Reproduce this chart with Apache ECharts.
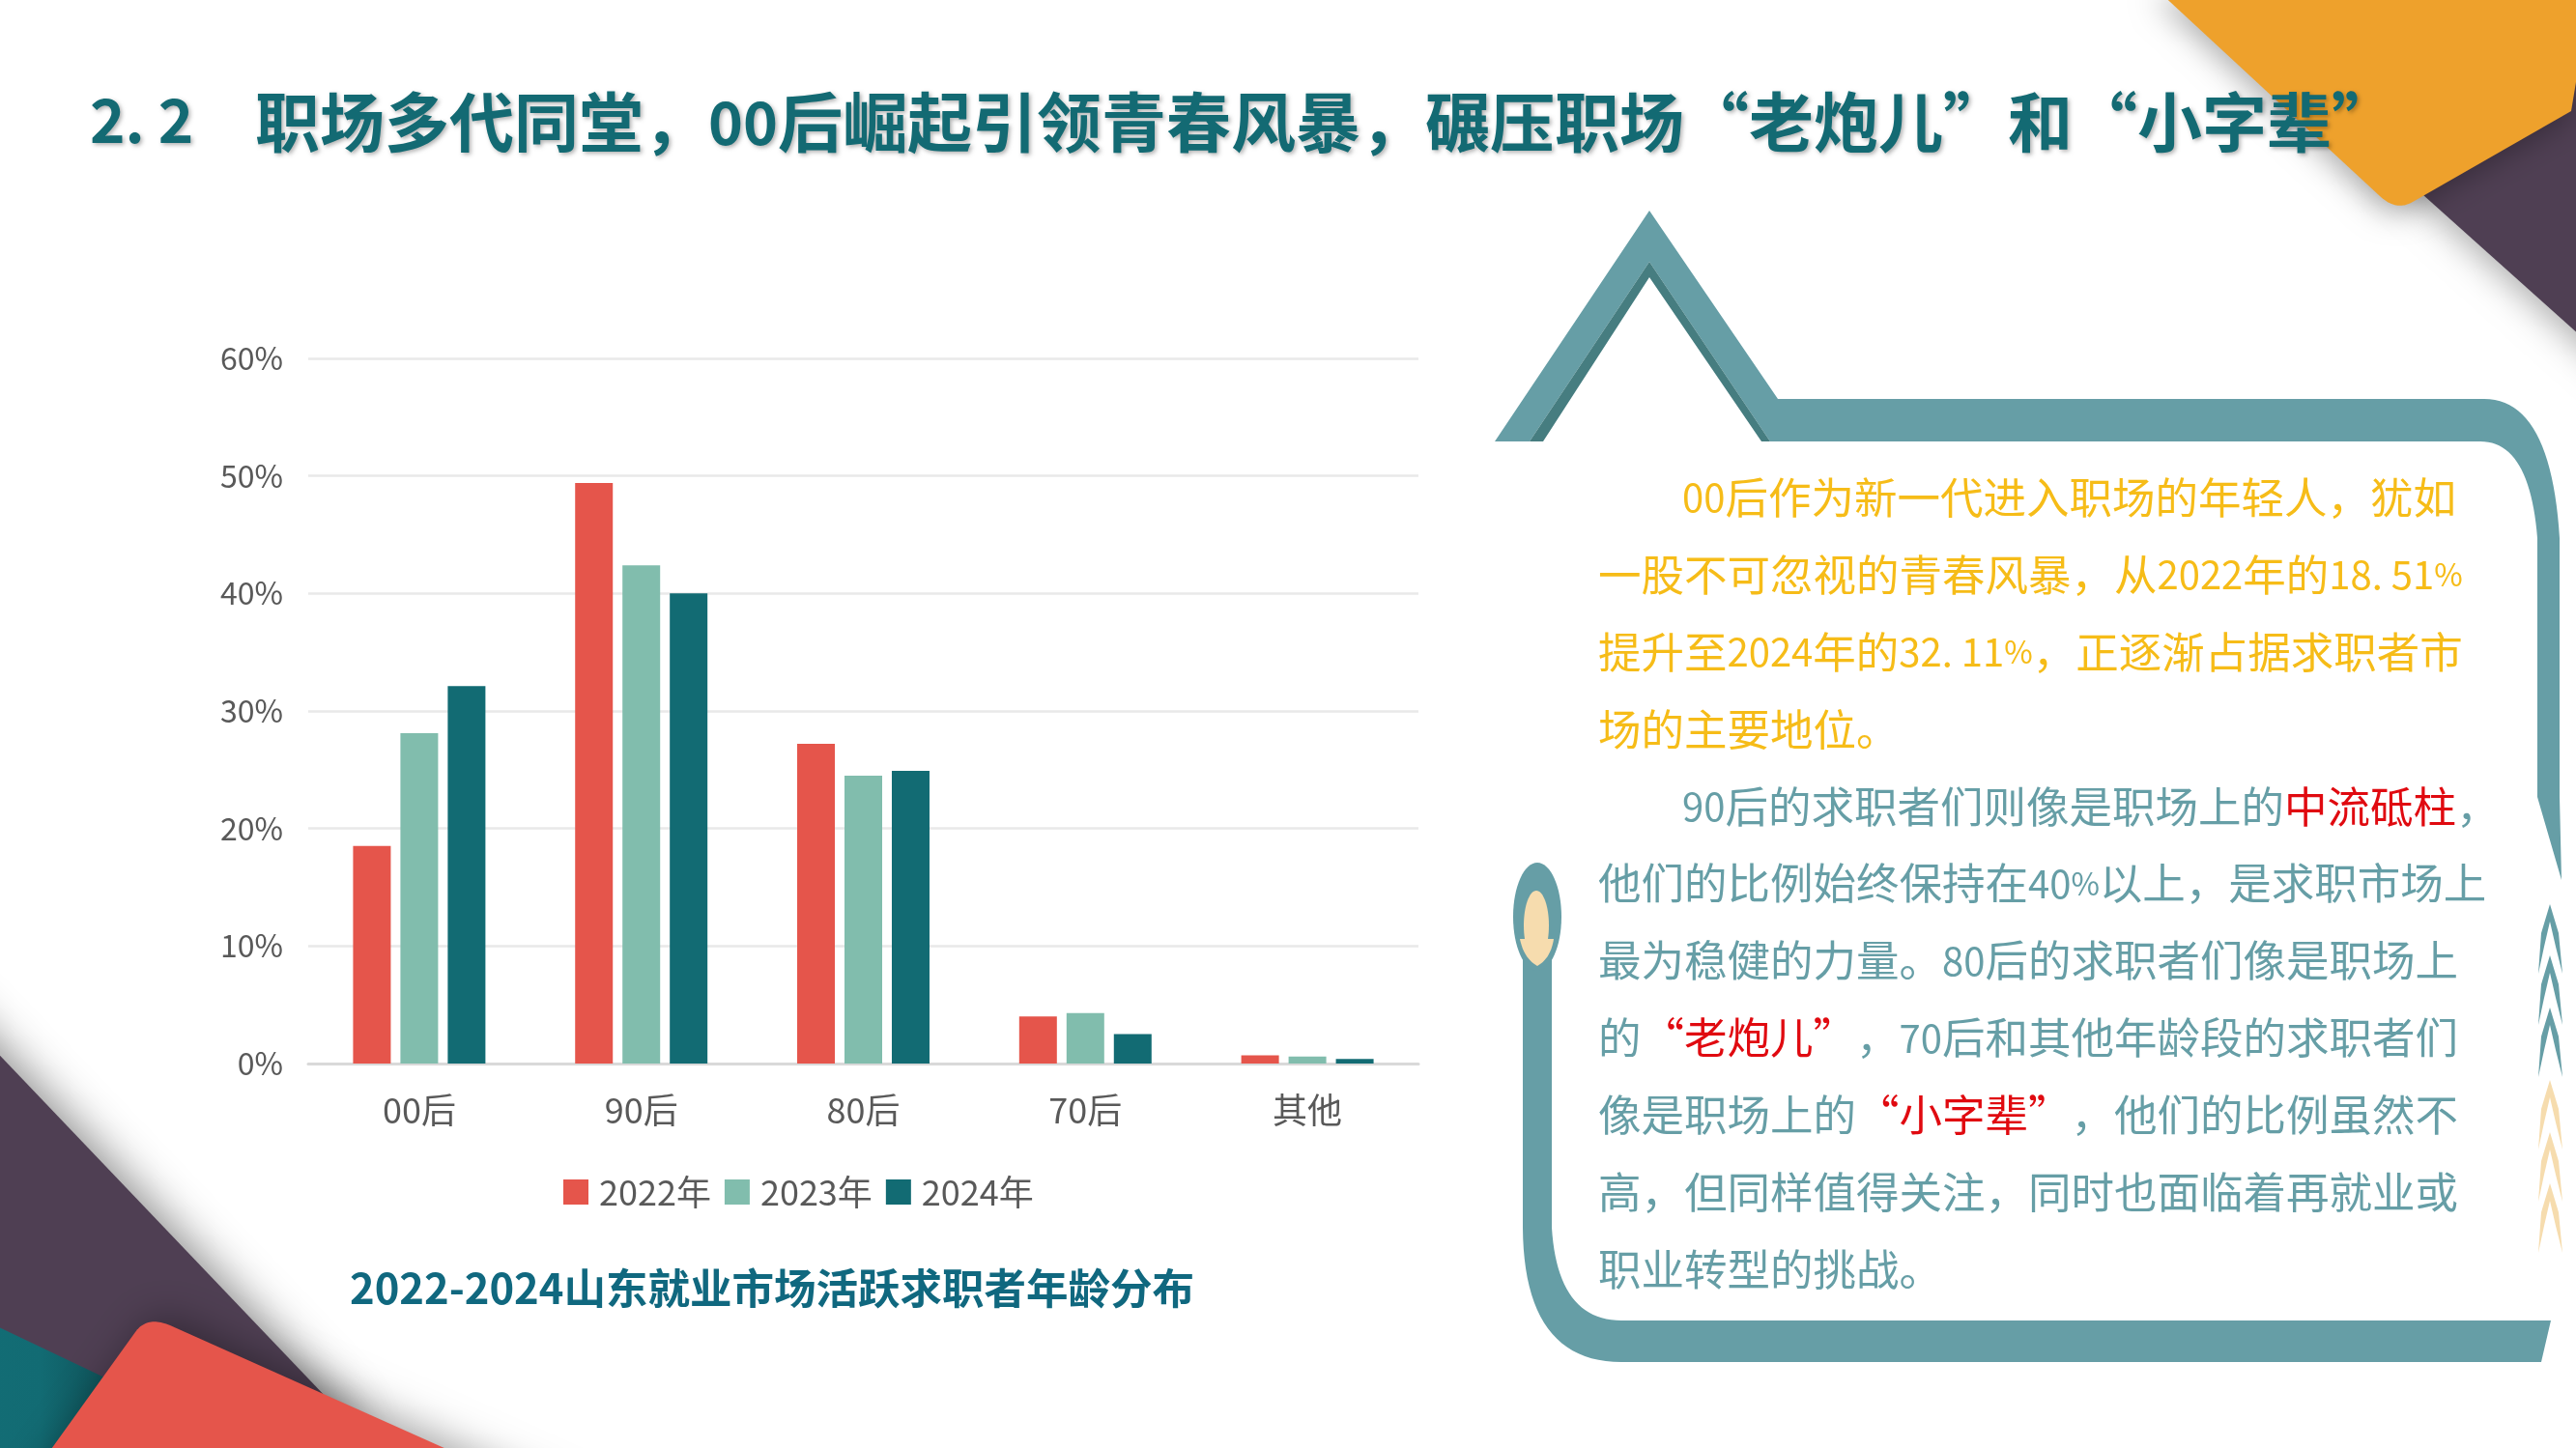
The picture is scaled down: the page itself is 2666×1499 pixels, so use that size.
<!DOCTYPE html>
<html>
<head>
<meta charset="utf-8">
<title>2022-2024山东就业市场活跃求职者年龄分布</title>
<script src="https://cdn.jsdelivr.net/npm/echarts@6/dist/echarts.min.js"></script>
<style>
html, body { margin: 0; padding: 0; background: #fff; }
#main { width: 2666px; height: 1499px; }
</style>
</head>
<body>
<div id="main"></div>
<script>
var categories = ["00后", "90后", "80后", "70后", "其他"];
var seriesNames = ["2022年", "2023年", "2024年"];
var values2022 = [18.51, 49.4, 27.2, 4.0, 0.7];
var values2023 = [28.1, 42.4, 24.5, 4.3, 0.6];
var values2024 = [32.11, 40.0, 24.9, 2.5, 0.4];
var seriesColors = ["#E5554B", "#81BDAD", "#126B73"];

var headNumber = "2. 2";
var headText = "职场多代同堂，{d|00}后崛起引领青春风暴，碾压职场“老炮儿”和“小字辈”";
var chartCaption = "2022-2024山东就业市场活跃求职者年龄分布";

// <>里的是红字
var introLines = [
	"00后作为新一代进入职场的年轻人，犹如",
	"一股不可忽视的青春风暴，从2022年的18. 51%",
	"提升至2024年的32. 11%，正逐渐占据求职者市",
	"场的主要地位。"
];
var bodyLines = [
	"90后的求职者们则像是职场上的<中流砥柱>，",
	"他们的比例始终保持在40%以上，是求职市场上",
	"最为稳健的力量。80后的求职者们像是职场上",
	"的<“老炮儿”>，70后和其他年龄段的求职者们",
	"像是职场上的<“小字辈”>，他们的比例虽然不",
	"高，但同样值得关注，同时也面临着再就业或",
	"职业转型的挑战。"
];

var cjkFont = '"Noto Sans CJK SC", "Noto Sans", sans-serif';
var frameColor = "#669EA6";
var frameDark = "#467D80";
var creamColor = "#F6DCAE";
var purpleColor = "#4F3F53";
var yellowColor = "#F6BC18";

//二次曲线取点，只给装饰框用
function curve(p0, c, p1){
	var pts = [];
	for(var i=1; i<=24; i++){
		var t = i / 24;
		var a = (1-t)*(1-t), b = 2*t*(1-t), d = t*t;
		pts.push([a*p0[0] + b*c[0] + d*p1[0], a*p0[1] + b*c[1] + d*p1[1]]);
	}
	return pts;
}

function poly(points, fill, extra){
	var style = {fill: fill};
	for(var k in extra) style[k] = extra[k];
	return {type: "polygon", z: 1, silent: true, shape: {points: points}, style: style};
}

//一行文字切成富文本
function richLine(line, key){
	var segs = line.split(/(<[^>]+>|[0-9][0-9. ]*|%)/);
	var out = "";
	for(var i=0; i<segs.length; i++){
		var seg = segs[i];
		if(seg == "") continue;
		if(seg.charAt(0) == "<") out += "{r|" + seg.substring(1, seg.length-1) + "}";
		else if(seg == "%") out += "{" + key + "p|%}";
		else if(/^[0-9]/.test(seg)) out += "{" + key + "d|" + seg + "}";
		else out += "{" + key + "|" + seg + "}";
	}
	return out;
}

var textRich = {
	y: {fontFamily: cjkFont, fontSize: 44.5, fill: yellowColor},
	yd: {fontFamily: cjkFont, fontSize: 40, fill: yellowColor},
	yp: {fontFamily: cjkFont, fontSize: 32, fill: yellowColor},
	t: {fontFamily: cjkFont, fontSize: 44.5, fill: frameColor},
	td: {fontFamily: cjkFont, fontSize: 40, fill: frameColor},
	tp: {fontFamily: cjkFont, fontSize: 32, fill: frameColor},
	r: {fontFamily: cjkFont, fontSize: 44.5, fill: "#E00A10"}
};

function paragraphElements(){
	var els = [];
	var all = introLines.concat(bodyLines);
	for(var i=0; i<all.length; i++){
		var indent = (i == 0 || i == introLines.length);
		var key = i < introLines.length ? "y" : "t";
		els.push({
			type: "text", z: 5, silent: true,
			style: {
				x: indent ? 1741 : 1654,
				y: 515 + i * 79.9,
				text: richLine(all[i], key),
				rich: textRich,
				verticalAlign: "middle",
				align: "left"
			}
		});
	}
	return els;
}

function chevron(y, color){
	return poly([
		[2639, y], [2648, y+30], [2652, y+72], [2645, y+44],
		[2639, y+18], [2633, y+44], [2627, y+72], [2630, y+30]
	], color);
}

function frameElements(){
	var top = [[1547, 457], [1707, 218], [1840, 413], [2571, 413]]
		.concat(curve([2571, 413], [2640, 413], [2649, 557]))
		.concat([[2649, 825], [2651, 911], [2626, 825], [2626, 557]])
		.concat(curve([2626, 557], [2618, 457], [2567, 457]))
		.concat([[1832, 457], [1707, 271], [1583, 457]]);
	var bottom = [[1576, 990], [1606, 990], [1606, 1271]]
		.concat(curve([1606, 1271], [1612, 1367], [1678, 1367]))
		.concat([[2640, 1367], [2630, 1410], [1678, 1410]])
		.concat(curve([1678, 1410], [1577, 1410], [1576, 1271]));
	var knobFoot = [[1573, 972], [1608, 972]]
		.concat(curve([1608, 972], [1605, 992], [1591, 1000]))
		.concat(curve([1591, 1000], [1577, 992], [1573, 972]));
	var els = [
		poly(top, frameColor),
		poly([[1707, 271], [1583, 457], [1597, 457], [1707, 287], [1823, 457], [1832, 457]], frameDark),
		poly(bottom, frameColor),
		{type: "ellipse", z: 1, silent: true, shape: {cx: 1591, cy: 949, rx: 25, ry: 56}, style: {fill: frameColor}},
		{type: "ellipse", z: 2, silent: true, shape: {cx: 1590, cy: 958, rx: 13, ry: 36}, style: {fill: creamColor}},
		poly(knobFoot, creamColor, {})
	];
	els[5].z = 2;
	var tealY = [936, 989, 1043];
	var creamY = [1118, 1172, 1225];
	for(var i=0; i<3; i++){
		els.push(chevron(tealY[i], frameColor));
		els.push(chevron(creamY[i], creamColor));
	}
	return els;
}

function cornerElements(){
	var shadow = {shadowBlur: 46, shadowColor: "rgba(0,0,0,0.45)", shadowOffsetX: 6, shadowOffsetY: -4};
	var shadowTop = {shadowBlur: 34, shadowColor: "rgba(0,0,0,0.3)", shadowOffsetX: -4, shadowOffsetY: 8};
	var red = [[10, 1560], [140, 1379]]
		.concat(curve([140, 1379], [152, 1362], [176, 1372]))
		.concat([[596, 1560]]);
	var orange = [[2233, -10], [2463, 203]]
		.concat(curve([2463, 203], [2480, 219], [2497, 209]))
		.concat([[2661, 115], [2666, 85], [2680, -10]]);
	return [
		poly([[-60, 1030], [360, 1470], [360, 1560], [-60, 1560]], purpleColor, shadow),
		poly([[-60, 1346], [230, 1484], [230, 1560], [-60, 1560]], {
			type: "linear", x: 0, y: 0, x2: 1, y2: 0,
			colorStops: [{offset: 0, color: "#136E76"}, {offset: 0.35, color: "#126B73"}, {offset: 0.7, color: "#0E4A50"}, {offset: 1, color: "#3A3040"}]
		}),
		poly(red, seriesColors[0], {shadowBlur: 40, shadowColor: "rgba(0,0,0,0.35)", shadowOffsetX: 10, shadowOffsetY: -4}),
		poly([[2450, 150], [2720, 392], [2720, 60]], purpleColor, shadowTop),
		poly(orange, "#EEA12C", {shadowBlur: 30, shadowColor: "rgba(0,0,0,0.3)", shadowOffsetX: -4, shadowOffsetY: 8})
	];
}

var myChart = echarts.init(document.getElementById("main"), null, {renderer: "canvas"});

myChart.setOption({
	animation: false,
	backgroundColor: "#fff",
	color: seriesColors,
	title: [{
		text: headNumber,
		left: 93, top: 93, padding: 0,
		textStyle: {
			fontFamily: cjkFont, fontSize: 62, fontWeight: "bold", color: "#136A73",
			textShadowColor: "rgba(0,0,0,0.3)", textShadowBlur: 4, textShadowOffsetX: 2, textShadowOffsetY: 2
		}
	}, {
		text: headText,
		left: 264, top: 93, padding: 0,
		textStyle: {
			fontFamily: cjkFont, fontSize: 67, fontWeight: "bold", color: "#136A73",
			textShadowColor: "rgba(0,0,0,0.3)", textShadowBlur: 4, textShadowOffsetX: 2, textShadowOffsetY: 2,
			rich: {
				d: {fontFamily: cjkFont, fontSize: 61, fontWeight: "bold", color: "#136A73",
					textShadowColor: "rgba(0,0,0,0.3)", textShadowBlur: 4, textShadowOffsetX: 2, textShadowOffsetY: 2}
			}
		}
	}, {
		text: chartCaption,
		left: 362, top: 1312, padding: 0,
		textStyle: {fontFamily: cjkFont, fontSize: 43.5, fontWeight: "bold", color: "#10687F"}
	}],
	legend: {
		left: 583, top: 1216, padding: 0,
		icon: "rect", itemWidth: 26, itemHeight: 26, itemGap: 14,
		selectedMode: false,
		data: seriesNames,
		textStyle: {fontFamily: cjkFont, fontSize: 36, color: "#595959", padding: [0, 0, 0, 6]}
	},
	grid: {left: 319, width: 1149, top: 371, height: 730, containLabel: false},
	xAxis: {
		type: "category",
		data: categories,
		axisTick: {show: false},
		axisLine: {lineStyle: {color: "#D9D9D9", width: 3}},
		axisLabel: {margin: 30, fontFamily: cjkFont, fontSize: 36, color: "#595959"}
	},
	yAxis: {
		type: "value",
		min: 0, max: 60, interval: 10,
		axisLine: {show: false},
		axisTick: {show: false},
		splitLine: {lineStyle: {color: "#E9E9E9", width: 2.5}},
		axisLabel: {margin: 26, formatter: "{value}%", fontFamily: cjkFont, fontSize: 32, color: "#595959"}
	},
	series: [
		{name: seriesNames[0], type: "bar", data: values2022, barWidth: 39, barGap: "25.6%"},
		{name: seriesNames[1], type: "bar", data: values2023, barWidth: 39, barGap: "25.6%"},
		{name: seriesNames[2], type: "bar", data: values2024, barWidth: 39, barGap: "25.6%"}
	],
	graphic: {elements: cornerElements().concat(frameElements()).concat(paragraphElements())}
});
</script>
</body>
</html>
